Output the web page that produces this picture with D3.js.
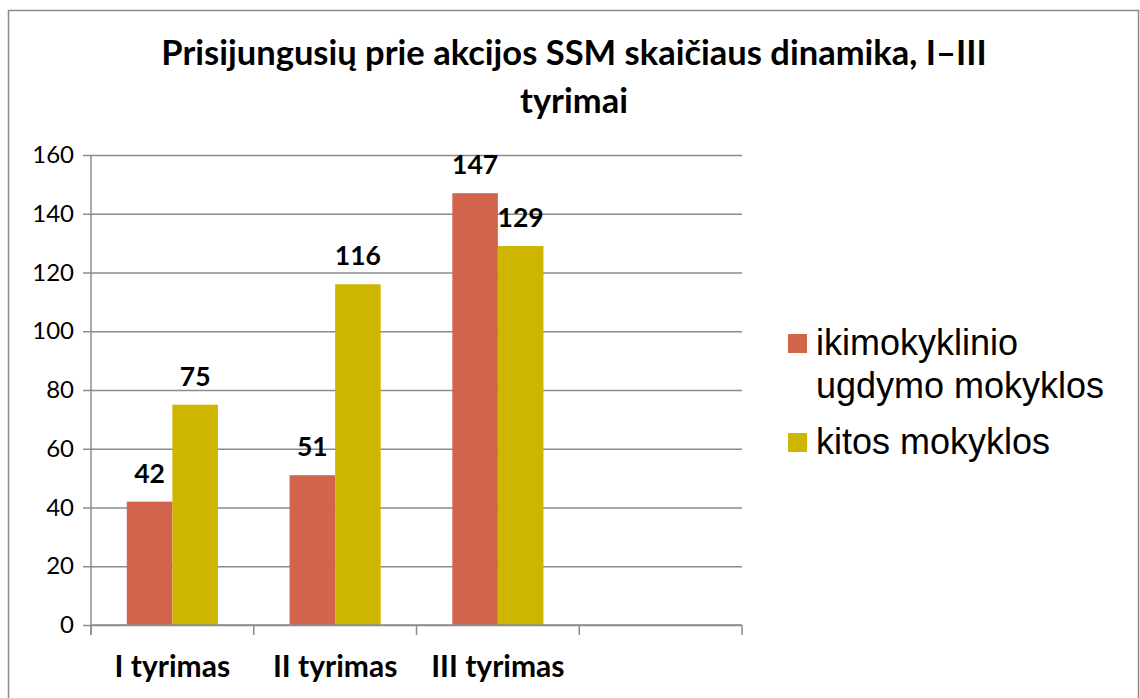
<!DOCTYPE html>
<html>
<head>
<meta charset="utf-8">
<script src="https://cdn.jsdelivr.net/npm/d3@7"></script>
<style>
  body { margin: 0; background: #fff; }
  svg { display: block; }
</style>
</head>
<body>
<div id="chart"></div>
<script>
'use strict';

// data
const categories = ["I tyrimas", "II tyrimas", "III tyrimas", ""];
const seriesNames = ["ikimokyklinio ugdymo mokyklos", "kitos mokyklos"];
const preschool = [42, 51, 147, null];
const otherSchools = [75, 116, 129, null];
const yTicks = [0, 20, 40, 60, 80, 100, 120, 140, 160];
const titleLines = ["Prisijungusių prie akcijos SSM skaičiaus dinamika, I–III", "tyrimai"];
const legendLines = [["ikimokyklinio", "ugdymo mokyklos"], ["kitos mokyklos"]];

const colors = ["#D3644C", "#CDB500"];
const W = 1140, H = 698;
const margin = {left: 91, right: 1140 - 742, top: 155, bottom: H - 625};

const svg = d3.select("#chart").append("svg")
    .attr("width", W)
    .attr("height", H);

// outer chart border
svg.append("rect")
    .attr("x", 8.5).attr("y", 10.5)
    .attr("width", 1130).attr("height", 700)
    .attr("fill", "none")
    .attr("stroke", "#8a8a8a")
    .attr("stroke-width", 1.5);

const x = d3.scaleBand()
    .domain(categories.map((d, i) => i))
    .range([margin.left, W - margin.right])
    .paddingInner(0.44)
    .paddingOuter(0.22);

const x1 = d3.scaleBand()
    .domain([0, 1])
    .range([0, x.bandwidth()]);

const y = d3.scaleLinear()
    .domain([0, 160])
    .range([H - margin.bottom, margin.top]);

// gridlines + y axis
const yAxis = d3.axisLeft(y)
    .tickValues(yTicks)
    .tickSize(-(W - margin.right - margin.left))
    .tickSizeOuter(0)
    .tickPadding(17);

const gy = svg.append("g")
    .attr("transform", "translate(" + margin.left + ",0)")
    .call(yAxis);
gy.select(".domain").remove();
gy.selectAll(".tick line")
    .attr("x1", -8)
    .attr("stroke", "#8c8c8c")
    .attr("stroke-width", 1.5);
gy.selectAll(".tick text")
    .attr("font-family", "Lato, sans-serif")
    .attr("font-size", 24)
    .attr("fill", "#000");

// bars
const groups = svg.append("g").selectAll("g")
    .data(categories.map((c, i) => i))
    .join("g")
    .attr("transform", i => "translate(" + x(i) + ",0)");

const values = [preschool, otherSchools];
groups.selectAll("rect")
    .data(i => values.map((s, k) => ({k: k, v: s[i]})).filter(d => d.v != null))
    .join("rect")
    .attr("x", d => x1(d.k))
    .attr("y", d => y(d.v))
    .attr("width", x1.bandwidth())
    .attr("height", d => y(0) - y(d.v))
    .attr("fill", d => colors[d.k]);

groups.selectAll("text")
    .data(i => values.map((s, k) => ({k: k, v: s[i]})).filter(d => d.v != null))
    .join("text")
    .attr("x", d => x1(d.k) + x1.bandwidth() / 2)
    .attr("y", d => y(d.v) - 19)
    .attr("text-anchor", "middle")
    .attr("font-family", "Lato, sans-serif")
    .attr("font-weight", "bold")
    .attr("font-size", 26.5)
    .text(d => d.v);

// y axis line
svg.append("line")
    .attr("x1", margin.left).attr("x2", margin.left)
    .attr("y1", margin.top).attr("y2", H - margin.bottom + 10)
    .attr("stroke", "#8c8c8c").attr("stroke-width", 1.5);

// x axis with ticks at band borders
const step = x.step();
const gx = svg.append("g")
    .attr("transform", "translate(0," + (H - margin.bottom) + ")");
gx.append("line")
    .attr("x1", margin.left).attr("x2", W - margin.right)
    .attr("stroke", "#8c8c8c").attr("stroke-width", 1.5);
gx.selectAll(".xt")
    .data(d3.range(categories.length + 1))
    .join("line")
    .attr("x1", i => margin.left + i * step)
    .attr("x2", i => margin.left + i * step)
    .attr("y1", 0).attr("y2", 10)
    .attr("stroke", "#8c8c8c").attr("stroke-width", 1.5);
gx.selectAll("text")
    .data(categories)
    .join("text")
    .attr("x", (d, i) => x(i) + x.bandwidth() / 2)
    .attr("y", 52)
    .attr("text-anchor", "middle")
    .attr("font-family", "Lato, sans-serif")
    .attr("font-weight", "bold")
    .attr("font-size", 30)
    .text(d => d);

// title
svg.append("g").selectAll("text")
    .data(titleLines)
    .join("text")
    .attr("x", 574)
    .attr("y", (d, i) => 65 + i * 47.5)
    .attr("text-anchor", "middle")
    .attr("font-family", "Lato, sans-serif")
    .attr("font-weight", "bold")
    .attr("font-size", 34.5)
    .text(d => d);

// legend
const legend = svg.append("g").attr("transform", "translate(788,0)");
const legendTop = [355, 454];
legendLines.forEach((lines, k) => {
    legend.append("rect")
        .attr("x", 0).attr("y", legendTop[k] - 21)
        .attr("width", 19).attr("height", 19)
        .attr("fill", colors[k]);
    legend.append("text")
        .attr("x", 28)
        .attr("y", legendTop[k])
        .attr("font-family", "'Liberation Sans', Arial, sans-serif")
        .attr("font-size", 36)
        .selectAll("tspan")
        .data(lines)
        .join("tspan")
        .attr("x", 28)
        .attr("dy", (d, i) => i === 0 ? 0 : 43)
        .text(d => d);
});
</script>
</body>
</html>
